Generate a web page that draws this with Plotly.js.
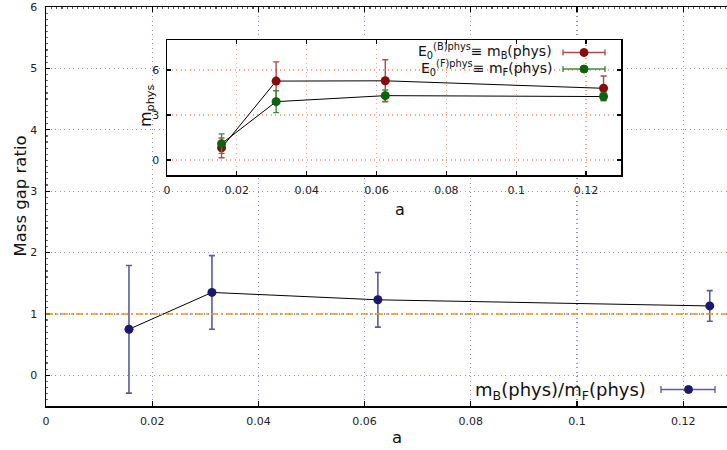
<!DOCTYPE html>
<html>
<head>
<meta charset="utf-8">
<script src="https://cdn.plot.ly/plotly-3.0.1.min.js"></script>
<style>html,body{margin:0;padding:0;background:#fff;}#chart{width:727px;height:450px;}</style>
</head>
<body>
<div id="chart"></div>
<script>
// ---- data ----
const a = [0.015625, 0.03125, 0.0625, 0.125];
const ratio = [0.75, 1.35, 1.23, 1.13];
const ratioErr = [1.04, 0.60, 0.445, 0.25];
const mB = [0.81, 5.26, 5.28, 4.78];
const mBErr = [0.66, 1.28, 1.40, 0.82];
const mF = [1.09, 3.89, 4.29, 4.23];
const mFErr = [0.65, 0.73, 0.38, 0.27];
const xTicks = [0, 0.02, 0.04, 0.06, 0.08, 0.1, 0.12];
const xTickText = ['0', '0.02', '0.04', '0.06', '0.08', '0.1', '0.12'];
const yTicksMain = [0, 1, 2, 3, 4, 5, 6];
const yTicksInset = [0, 3, 6];
const refLine = 1;
const mainLegend = 'm<sub>B</sub>(phys)/m<sub>F</sub>(phys)';
const nameB = 'E<sub>0</sub><sup>(B)phys</sup>≡ m<sub>B</sub>(phys)';
const nameF = 'E<sub>0</sub><sup>(F)phys</sup>≡ m<sub>F</sub>(phys)';

// ---- geometry helpers (pixel -> paper) ----
const L = 46, R = 727, T = 7, B = 406;
const px = v => (v - L) / (R - L);
const py = v => (B - v) / (B - T);

const FONT = 'DejaVu Sans, sans-serif';
const navy = '#191970', navyBar = '#5c5c98';
const red = '#8b0a0a', redBar = '#b04a4a';
const green = '#0a640a', greenBar = '#3f8a3f';

const traces = [
  {x: a, y: ratio, xaxis: 'x', yaxis: 'y', mode: 'lines+markers', showlegend: false, hoverinfo: 'skip',
   line: {color: '#000', width: 1}, marker: {color: navy, size: 9},
   error_y: {type: 'data', array: ratioErr, color: navyBar, thickness: 1.6, width: 3}},
  {x: [], y: [], xaxis: 'x3', yaxis: 'y', mode: 'markers', showlegend: false, hoverinfo: 'skip'},
  {x: a, y: mB, xaxis: 'x2', yaxis: 'y2', mode: 'lines+markers', showlegend: false, hoverinfo: 'skip',
   line: {color: '#000', width: 1}, marker: {color: red, size: 9},
   error_y: {type: 'data', array: mBErr, color: redBar, thickness: 1.4, width: 3}},
  {x: a, y: mF, xaxis: 'x2', yaxis: 'y2', mode: 'lines+markers', showlegend: false, hoverinfo: 'skip',
   line: {color: '#000', width: 1}, marker: {color: green, size: 9},
   error_y: {type: 'data', array: mFErr, color: greenBar, thickness: 1.4, width: 3}}
];

const tickFont = {family: FONT, size: 11, color: '#222'};
const mainGrid = '#8f8fd8', insetGrid = '#f7a58a';
const dotDash = '1.2px,3.3px';

const layout = {
  width: 727, height: 450,
  margin: {l: L, r: 727 - R, t: T, b: 450 - B},
  paper_bgcolor: '#fff', plot_bgcolor: '#fff',
  font: {family: FONT, color: '#222'},
  xaxis: {range: [0, (R - L) / 5310], tickmode: 'array', tickvals: xTicks, ticktext: xTickText,
    ticks: 'inside', ticklen: 5, tickwidth: 1.2, tickcolor: '#000', tickfont: tickFont, ticklabelstandoff: 4,
    showline: true, linecolor: '#000', linewidth: 1.5, zeroline: false,
    showgrid: true, gridcolor: mainGrid, griddash: dotDash, gridwidth: 1.2},
  xaxis3: {overlaying: 'x', side: 'top', anchor: 'y', range: [0, (R - L) / 5310], tickmode: 'array', tickvals: xTicks,
    showticklabels: false, ticks: 'inside', ticklen: 5, tickwidth: 1.2, tickcolor: '#000',
    showline: true, linecolor: '#000', linewidth: 1.5, zeroline: false, showgrid: false,
    minor: {dtick: 0.001, tick0: 0, ticks: 'inside', ticklen: 2, tickcolor: '#555', showgrid: false}},
  yaxis: {range: [-0.5, 6], tickmode: 'array', tickvals: yTicksMain,
    ticks: 'inside', ticklen: 4, tickwidth: 1.2, tickcolor: '#000', tickfont: tickFont, ticklabelstandoff: 5,
    showline: true, linecolor: '#000', linewidth: 1.5, zeroline: false,
    showgrid: true, gridcolor: mainGrid, griddash: dotDash, gridwidth: 1.2,
    minor: {dtick: 0.1, tick0: 0, ticks: 'inside', ticklen: 2, tickcolor: '#666', showgrid: false}},
  xaxis2: {domain: [px(167), px(621)], anchor: 'y2', range: [0, 0.13], tickmode: 'array', tickvals: xTicks, ticktext: xTickText,
    ticks: 'inside', ticklen: 4, tickwidth: 1.2, tickcolor: '#000', tickfont: tickFont, ticklabelstandoff: 4,
    showline: true, linecolor: '#000', linewidth: 1.5, mirror: 'ticks', zeroline: false,
    showgrid: true, gridcolor: insetGrid, griddash: dotDash, gridwidth: 1.2},
  yaxis2: {domain: [py(175), py(40)], anchor: 'x2', range: [-1, 8], tickmode: 'array', tickvals: yTicksInset,
    ticks: 'inside', ticklen: 4, tickwidth: 1.2, tickcolor: '#000', tickfont: tickFont, ticklabelstandoff: 4,
    showline: true, linecolor: '#000', linewidth: 1.5, mirror: 'ticks', zeroline: false,
    showgrid: true, gridcolor: insetGrid, griddash: dotDash, gridwidth: 1.2},
  shapes: [
    {type: 'line', xref: 'paper', yref: 'y', x0: 0, x1: 1, y0: refLine, y1: refLine,
     line: {color: '#e6a00f', width: 1.5, dash: '7px,3px,2px,3px'}, layer: 'above'},
    // main legend key
    {type: 'line', xref: 'paper', yref: 'paper', x0: px(661), x1: px(715), y0: py(389.5), y1: py(389.5), line: {color: navyBar, width: 1.3}},
    {type: 'line', xref: 'paper', yref: 'paper', x0: px(661), x1: px(661), y0: py(386), y1: py(393), line: {color: navyBar, width: 1.3}},
    {type: 'line', xref: 'paper', yref: 'paper', x0: px(715), x1: px(715), y0: py(386), y1: py(393), line: {color: navyBar, width: 1.3}},
    {type: 'circle', xref: 'paper', yref: 'paper', xsizemode: 'pixel', ysizemode: 'pixel', xanchor: px(688.5), yanchor: py(389.5),
     x0: -4, x1: 4, y0: -4, y1: 4, fillcolor: navy, line: {color: navy, width: 1}},
    // inset legend keys
    {type: 'line', xref: 'paper', yref: 'paper', x0: px(563), x1: px(605), y0: py(52.5), y1: py(52.5), line: {color: redBar, width: 1.3}},
    {type: 'line', xref: 'paper', yref: 'paper', x0: px(563), x1: px(563), y0: py(49.5), y1: py(55.5), line: {color: redBar, width: 1.3}},
    {type: 'line', xref: 'paper', yref: 'paper', x0: px(605), x1: px(605), y0: py(49.5), y1: py(55.5), line: {color: redBar, width: 1.3}},
    {type: 'circle', xref: 'paper', yref: 'paper', xsizemode: 'pixel', ysizemode: 'pixel', xanchor: px(584), yanchor: py(52.5),
     x0: -4, x1: 4, y0: -4, y1: 4, fillcolor: red, line: {color: red, width: 1}},
    {type: 'line', xref: 'paper', yref: 'paper', x0: px(563), x1: px(605), y0: py(69), y1: py(69), line: {color: greenBar, width: 1.3}},
    {type: 'line', xref: 'paper', yref: 'paper', x0: px(563), x1: px(563), y0: py(66), y1: py(72), line: {color: greenBar, width: 1.3}},
    {type: 'line', xref: 'paper', yref: 'paper', x0: px(605), x1: px(605), y0: py(66), y1: py(72), line: {color: greenBar, width: 1.3}},
    {type: 'circle', xref: 'paper', yref: 'paper', xsizemode: 'pixel', ysizemode: 'pixel', xanchor: px(584), yanchor: py(69),
     x0: -4, x1: 4, y0: -4, y1: 4, fillcolor: green, line: {color: green, width: 1}}
  ],
  annotations: [
    {text: 'a', xref: 'paper', yref: 'paper', x: px(397), y: py(437), xanchor: 'center', yanchor: 'middle', showarrow: false,
     font: {family: FONT, size: 16.5, color: '#111'}},
    {text: 'Mass gap ratio', xref: 'paper', yref: 'paper', x: px(19.5), y: py(196), xanchor: 'center', yanchor: 'middle', textangle: -90,
     showarrow: false, font: {family: FONT, size: 16.5, color: '#111'}},
    {text: 'a', xref: 'paper', yref: 'paper', x: px(400), y: py(209), xanchor: 'center', yanchor: 'middle', showarrow: false,
     font: {family: FONT, size: 16, color: '#111'}},
    {text: 'm<sub>phys</sub>', xref: 'paper', yref: 'paper', x: px(146), y: py(106), xanchor: 'center', yanchor: 'middle', textangle: -90,
     showarrow: false, font: {family: FONT, size: 16, color: '#111'}},
    {text: mainLegend, xref: 'paper', yref: 'paper', x: px(648), y: py(391), xanchor: 'right', yanchor: 'middle', showarrow: false,
     font: {family: FONT, size: 18, color: '#111'}},
    {text: nameB, xref: 'paper', yref: 'paper', x: px(554), y: py(51), xanchor: 'right', yanchor: 'middle', showarrow: false,
     font: {family: FONT, size: 14, color: '#111'}},
    {text: nameF, xref: 'paper', yref: 'paper', x: px(554), y: py(68), xanchor: 'right', yanchor: 'middle', showarrow: false,
     font: {family: FONT, size: 14, color: '#111'}}
  ]
};

Plotly.newPlot('chart', traces, layout, {staticPlot: true, displayModeBar: false});
</script>
</body>
</html>
